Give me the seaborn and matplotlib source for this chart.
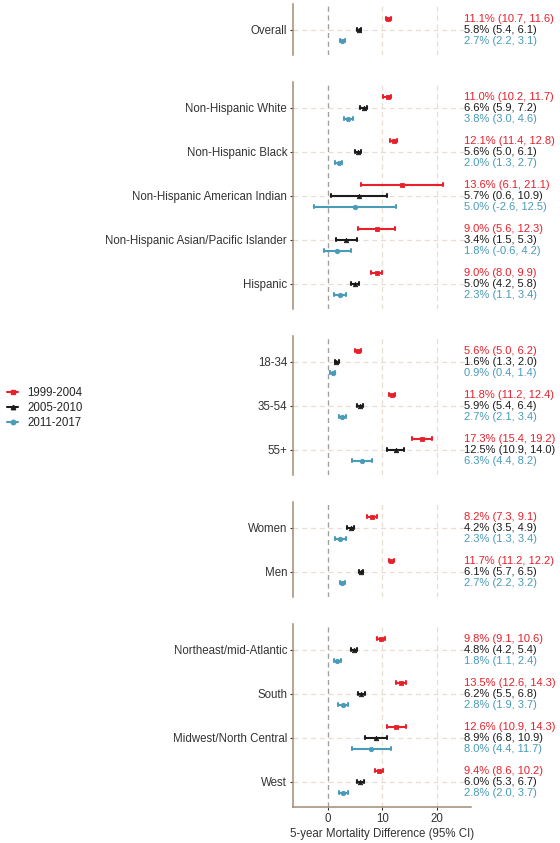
import matplotlib
matplotlib.use("Agg")
import matplotlib.pyplot as plt
import seaborn as sns
import numpy as np
import pandas as pd
from matplotlib.lines import Line2D

# ---------------- data ----------------
periods = ["1999-2004", "2005-2010", "2011-2017"]

overall_cats = ["Overall"]
overall_est = [[11.1, 5.8, 2.7]]
overall_lo = [[10.7, 5.4, 2.2]]
overall_hi = [[11.6, 6.1, 3.1]]

race_cats = ["Non-Hispanic White", "Non-Hispanic Black", "Non-Hispanic American Indian",
             "Non-Hispanic Asian/Pacific Islander", "Hispanic"]
race_est = [[11.0, 6.6, 3.8], [12.1, 5.6, 2.0], [13.6, 5.7, 5.0], [9.0, 3.4, 1.8], [9.0, 5.0, 2.3]]
race_lo = [[10.2, 5.9, 3.0], [11.4, 5.0, 1.3], [6.1, 0.6, -2.6], [5.6, 1.5, -0.6], [8.0, 4.2, 1.1]]
race_hi = [[11.7, 7.2, 4.6], [12.8, 6.1, 2.7], [21.1, 10.9, 12.5], [12.3, 5.3, 4.2], [9.9, 5.8, 3.4]]

age_cats = ["18-34", "35-54", "55+"]
age_est = [[5.6, 1.6, 0.9], [11.8, 5.9, 2.7], [17.3, 12.5, 6.3]]
age_lo = [[5.0, 1.3, 0.4], [11.2, 5.4, 2.1], [15.4, 10.9, 4.4]]
age_hi = [[6.2, 2.0, 1.4], [12.4, 6.4, 3.4], [19.2, 14.0, 8.2]]

sex_cats = ["Women", "Men"]
sex_est = [[8.2, 4.2, 2.3], [11.7, 6.1, 2.7]]
sex_lo = [[7.3, 3.5, 1.3], [11.2, 5.7, 2.2]]
sex_hi = [[9.1, 4.9, 3.4], [12.2, 6.5, 3.2]]

region_cats = ["Northeast/mid-Atlantic", "South", "Midwest/North Central", "West"]
region_est = [[9.8, 4.8, 1.8], [13.5, 6.2, 2.8], [12.6, 8.9, 8.0], [9.4, 6.0, 2.8]]
region_lo = [[9.1, 4.2, 1.1], [12.6, 5.5, 1.9], [10.9, 6.8, 4.4], [8.6, 5.3, 2.0]]
region_hi = [[10.6, 5.4, 2.4], [14.3, 6.8, 3.7], [14.3, 10.9, 11.7], [10.2, 6.7, 3.7]]

xticks = [0, 10, 20]
xlabel = "5-year Mortality Difference (95% CI)"

panels = [
    (overall_cats, overall_est, overall_lo, overall_hi),
    (race_cats, race_est, race_lo, race_hi),
    (age_cats, age_est, age_lo, age_hi),
    (sex_cats, sex_est, sex_lo, sex_hi),
    (region_cats, region_est, region_lo, region_hi),
]

# ---------------- style ----------------
colors = ["#E8202A", "#1C1C1C", "#4A9BB8"]
markers = ["s", "^", "o"]
spine_col = "#A08C76"
grid_col = "#E9DED2"
zero_col = "#A0A0A0"
txt_col = "#333333"
msize = 3.2

sns.set_theme(style="white")
plt.rcParams["font.family"] = ["Liberation Sans", "DejaVu Sans"]

W, H = 560, 843
fig = plt.figure(figsize=(W / 100, H / 100), dpi=100)

left_px, right_px = 292.7, 471.0
unit_px = 44.0
pad = 0.58
gap_px = 27.0
xlim = (-6.42, 26.3)
text_x = 25.0
offsets = [-0.25, 0.0, 0.25]

top = 4.0
axes = []
for k, (cats, est, lo, hi) in enumerate(panels):
    n = len(cats)
    h = (n - 1 + 2 * pad) * unit_px
    ax = fig.add_axes([left_px / W, 1 - (top + h) / H, (right_px - left_px) / W, h / H])
    top += h + gap_px
    axes.append(ax)

    rows = []
    for i, c in enumerate(cats):
        for j, p in enumerate(periods):
            for v in (lo[i][j], est[i][j], hi[i][j]):
                rows.append({"category": c, "period": p, "value": v})
    df = pd.DataFrame(rows)

    ax.set_axisbelow(True)
    sns.pointplot(data=df, x="value", y="category", hue="period",
                  order=cats, hue_order=periods, palette=colors, markers=markers,
                  linestyle="none", dodge=0.5, estimator="median",
                  errorbar=lambda v: (np.min(v), np.max(v)),
                  capsize=0.08, err_kws={"linewidth": 1.5},
                  legend=False, ax=ax)
    for ln in ax.lines:
        ln.set_markersize(msize)
        ln.set_markeredgewidth(0.6)
        ln.set_zorder(3)

    # annotations
    for i, c in enumerate(cats):
        for j in range(3):
            ax.text(text_x, i + offsets[j],
                    f"{est[i][j]:.1f}% ({lo[i][j]:.1f}, {hi[i][j]:.1f})",
                    color=colors[j], fontsize=8.0, va="center", ha="left",
                    clip_on=False)

    ax.set_xlim(*xlim)
    ax.set_ylim(n - 1 + pad, -pad)
    ax.set_xticks(xticks)
    ax.set_ylabel("")
    ax.set_xlabel("")
    ax.grid(True, axis="y", color=grid_col, linestyle=(0, (4, 3)), linewidth=0.9)
    ax.grid(True, axis="x", color=grid_col, linestyle=(0, (4, 3)), linewidth=0.9)
    ax.axvline(0, color=zero_col, linestyle=(0, (4, 3)), linewidth=0.9, zorder=1.5)

    for s in ["top", "right"]:
        ax.spines[s].set_visible(False)
    ax.spines["left"].set_color(spine_col)
    ax.spines["left"].set_linewidth(1.1)
    ax.tick_params(axis="y", length=2.5, width=0.8, color="#333333",
                   labelsize=8.3, labelcolor=txt_col, pad=1.5, left=True)
    if k < len(panels) - 1:
        ax.spines["bottom"].set_visible(False)
        ax.tick_params(axis="x", bottom=False, labelbottom=False)
    else:
        ax.spines["bottom"].set_color(spine_col)
        ax.spines["bottom"].set_linewidth(1.1)
        ax.tick_params(axis="x", length=2.5, width=0.8, color="#333333",
                       labelsize=8.3, labelcolor=txt_col, pad=1.5, bottom=True)
        ax.set_xlabel(xlabel, fontsize=8.3, color=txt_col, labelpad=2)

handles = [Line2D([0], [0], color=colors[j], marker=markers[j], markersize=msize,
                  linewidth=1.5) for j in range(3)]
fig.legend(handles, periods, loc="center left", bbox_to_anchor=(0.0, 0.516),
           frameon=False, fontsize=8.3, handlelength=1.0, handletextpad=0.8,
           labelspacing=0.25, borderaxespad=0.2)

fig.savefig("out.png", dpi=100)
